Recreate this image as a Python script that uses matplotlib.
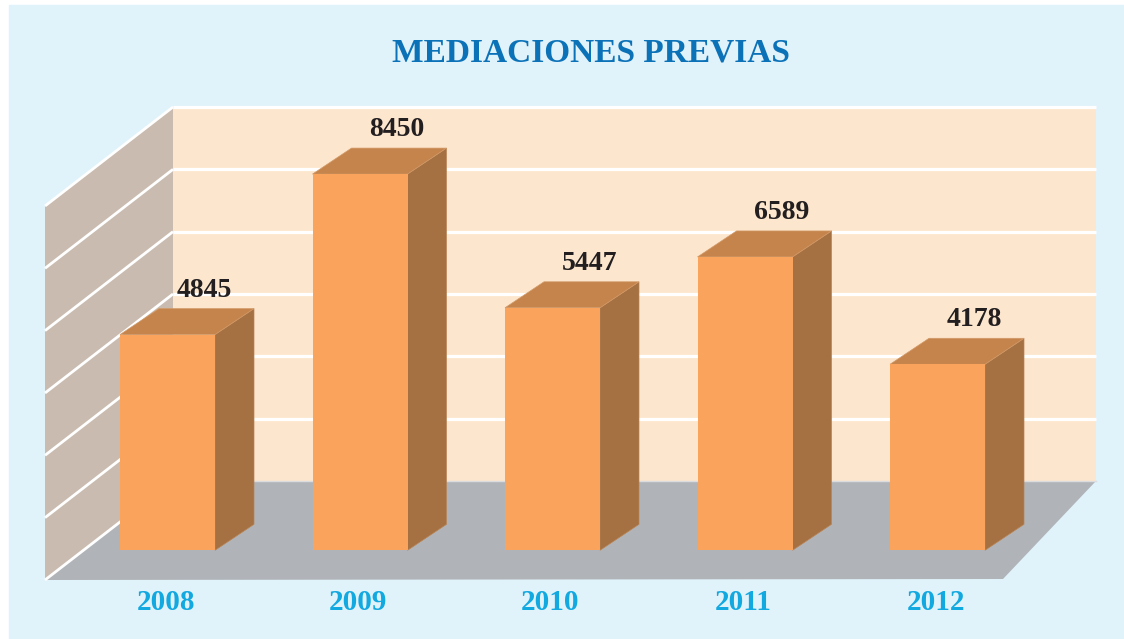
import matplotlib.pyplot as plt
from matplotlib.patches import Polygon, Rectangle

# Data
years = ['2008', '2009', '2010', '2011', '2012']
mediaciones = [4845, 8450, 5447, 6589, 4178]

# value range shown on the back wall (gridline every 1400)
y_max = 8400
y_step = 1400

# colours
c_panel = '#E0F2FA'
c_back = '#FDE6CE'
c_side = '#C9BBAF'
c_floor = '#B0B4B8'
c_front = '#F9A35D'
c_top = '#C5844C'
c_right = '#A67142'
c_title = '#0B72B8'
c_years = '#12A8E0'
c_values = '#231F20'

serif = ['Liberation Serif', 'DejaVu Serif']

fig = plt.figure(figsize=(11.24, 6.39), dpi=100)
ax = fig.add_axes([0, 0, 1, 1])
ax.set_xlim(0, 1124)
ax.set_ylim(639, 0)   # pixel-like units, y grows downwards
ax.axis('off')

# light blue panel
ax.add_patch(Rectangle((9, 5), 1115, 634, color=c_panel, zorder=0))

# box: back wall, left side wall and floor (oblique view)
wall_left, wall_right = 173, 1096
floor_back, wall_top = 481, 107
depth_dx, depth_dy = 128, 99
floor_front_right = 1003
scale = (floor_back - wall_top) / y_max

ax.add_patch(Polygon([(wall_left, floor_back), (wall_right, floor_back),
                      (wall_right, wall_top), (wall_left, wall_top)],
                     closed=True, color=c_back, lw=0, zorder=1))
ax.add_patch(Polygon([(wall_left - depth_dx, floor_back + depth_dy), (wall_left, floor_back),
                      (wall_left, wall_top), (wall_left - depth_dx, wall_top + depth_dy)],
                     closed=True, color=c_side, lw=0, zorder=1))
ax.add_patch(Polygon([(wall_left - depth_dx, floor_back + depth_dy),
                      (floor_front_right, floor_back + depth_dy - 1),
                      (wall_right, floor_back), (wall_left, floor_back)],
                     closed=True, color=c_floor, lw=0, zorder=1))

# gridlines on both walls
for k in range(0, y_max // y_step + 1):
    y = floor_back - k * y_step * scale
    if k > 0:
        ax.plot([wall_left, wall_right], [y, y], color='white', lw=2.3, zorder=2,
                solid_capstyle='butt')
    else:
        ax.plot([wall_left, wall_right], [y, y], color='#DADCDE', lw=1, zorder=2)
    ax.plot([wall_left - depth_dx, wall_left], [y + depth_dy, y], color='white', lw=2.0,
            zorder=2, solid_capstyle='butt')

# bars
bar_x0, bar_step, bar_w = 120, 192.5, 95
bar_base = floor_back + 0.7 * depth_dy
off_x, off_y = 39, -26

for i, (year, v) in enumerate(zip(years, mediaciones)):
    x0 = bar_x0 + i * bar_step
    x1 = x0 + bar_w
    top = bar_base - v * scale
    # right side face
    ax.add_patch(Polygon([(x1, bar_base), (x1 + off_x, bar_base + off_y),
                          (x1 + off_x, top + off_y), (x1, top)],
                         closed=True, facecolor=c_right, edgecolor='#B98455', lw=0.5, zorder=3))
    # top face
    ax.add_patch(Polygon([(x0, top), (x1, top), (x1 + off_x, top + off_y),
                          (x0 + off_x, top + off_y)],
                         closed=True, facecolor=c_top, edgecolor='#D39A68', lw=0.5, zorder=3))
    # front face
    ax.add_patch(Rectangle((x0, top), bar_w, v * scale, facecolor=c_front,
                           edgecolor='none', zorder=4))
    xc = x0 + bar_w / 2
    ax.text(xc + 37, top - 38, f'{v}', ha='center', va='baseline', fontsize=20,
            fontweight='bold', family=serif, color=c_values, zorder=5)
    ax.text(xc - 2, 603, year, ha='center', va='center', fontsize=21,
            fontweight='bold', family=serif, color=c_years, zorder=5)

ax.text(591, 53, 'MEDIACIONES PREVIAS', ha='center', va='center', fontsize=24,
        fontweight='bold', family=serif, color=c_title)

fig.savefig('out.png', dpi=100)
